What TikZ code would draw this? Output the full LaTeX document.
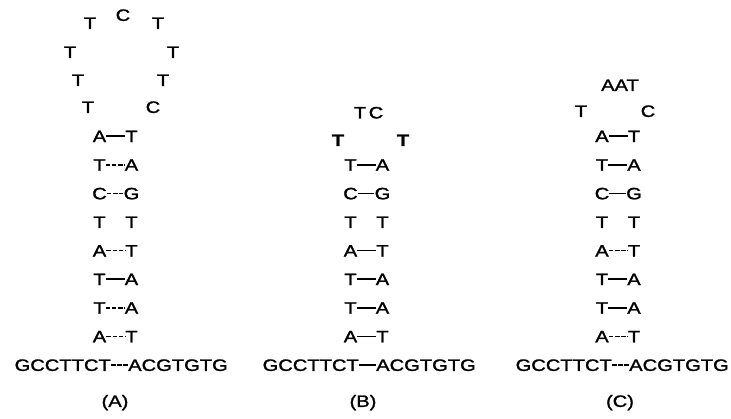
\documentclass[tikz,border=0pt]{standalone}
\usepackage{fontspec}
\setmainfont{Liberation Sans}
\newfontfamily\basefont[FakeStretch=1.22,FakeBold=1.5]{Liberation Sans}

\tikzset{
  base/.style={inner sep=0pt, text height=11.8pt, text depth=0pt, font=\basefont\fontsize{16.5}{16.5}\selectfont},
  boldbase/.style={base, font=\basefont\bfseries\fontsize{16.5}{16.5}\selectfont},
  hb/.style={black, line width=1.6pt},
  hbd/.style={hb, dash pattern=on 4.5pt off 1.6pt},
  hbn/.style={draw=none},
}

\begin{document}
\begin{tikzpicture}[x=1pt,y=-1pt]
\useasboundingbox (0,0) rectangle (731,418);

\node[base] (la1) at (90,23) {T};
\node[base] (la2) at (123,15) {C};
\node[base] (la3) at (158,23) {T};
\node[base] (la4) at (70,52) {T};
\node[base] (la5) at (173,52) {T};
\node[base] (la6) at (78,80) {T};
\node[base] (la7) at (163,80) {T};
\node[base] (la8) at (88,107) {T};
\node[base] (la9) at (153,107) {C};

\foreach \l/\r/\k/\s in {A/T/1/hb, T/A/2/hbd, C/G/3/hbd, T/T/4/hbn, A/T/5/hbd, T/A/6/hb, T/A/7/hbd, A/T/8/hbd}{
  \node[base] (aL\k) at (99.5,{365-28.6*(9-\k)}) {\l};
  \node[base] (aR\k) at (131.5,{365-28.6*(9-\k)}) {\r};
  \draw[\s] (aL\k) -- (aR\k);
}
\node[base, anchor=east] (gccA) at (111,365) {GCCTTCT};
\node[base, anchor=west] (acgA) at (128,365) {ACGTGTG};
\draw[hbd] (gccA) -- (acgA);
\node[base] (labA) at (115,401) {(A)};

\node[base] (lb1) at (360,112.5) {T};
\node[base] (lb2) at (376,112.5) {C};
\node[boldbase] (lb3) at (338,140) {T};
\node[boldbase] (lb4) at (403,140) {T};

\foreach \l/\r/\k/\s in {T/A/2/hb, C/G/3/hb, T/T/4/hbn, A/T/5/hb, T/A/6/hb, T/A/7/hb, A/T/8/hb}{
  \node[base] (bL\k) at (350.5,{365-28.6*(9-\k)}) {\l};
  \node[base] (bR\k) at (382.5,{365-28.6*(9-\k)}) {\r};
  \draw[\s] (bL\k) -- (bR\k);
}
\node[base, anchor=east] (gccB) at (359,365) {GCCTTCT};
\node[base, anchor=west] (acgB) at (376,365) {ACGTGTG};
\draw[hb] (gccB) -- (acgB);
\node[base] (labB) at (363,401) {(B)};

\node[base] (lc1) at (620,85) {AAT};
\node[base] (lc2) at (581,111) {T};
\node[base] (lc3) at (648,111) {C};

\foreach \l/\r/\k/\s in {A/T/1/hb, T/A/2/hb, C/G/3/hb, T/T/4/hbn, A/T/5/hbd, T/A/6/hb, T/A/7/hb, A/T/8/hbd}{
  \node[base] (cL\k) at (602,{365-28.6*(9-\k)}) {\l};
  \node[base] (cR\k) at (634,{365-28.6*(9-\k)}) {\r};
  \draw[\s] (cL\k) -- (cR\k);
}
\node[base, anchor=east] (gccC) at (612,365) {GCCTTCT};
\node[base, anchor=west] (acgC) at (629,365) {ACGTGTG};
\draw[hbd] (gccC) -- (acgC);
\node[base] (labC) at (620,401) {(C)};

\end{tikzpicture}
\end{document}
